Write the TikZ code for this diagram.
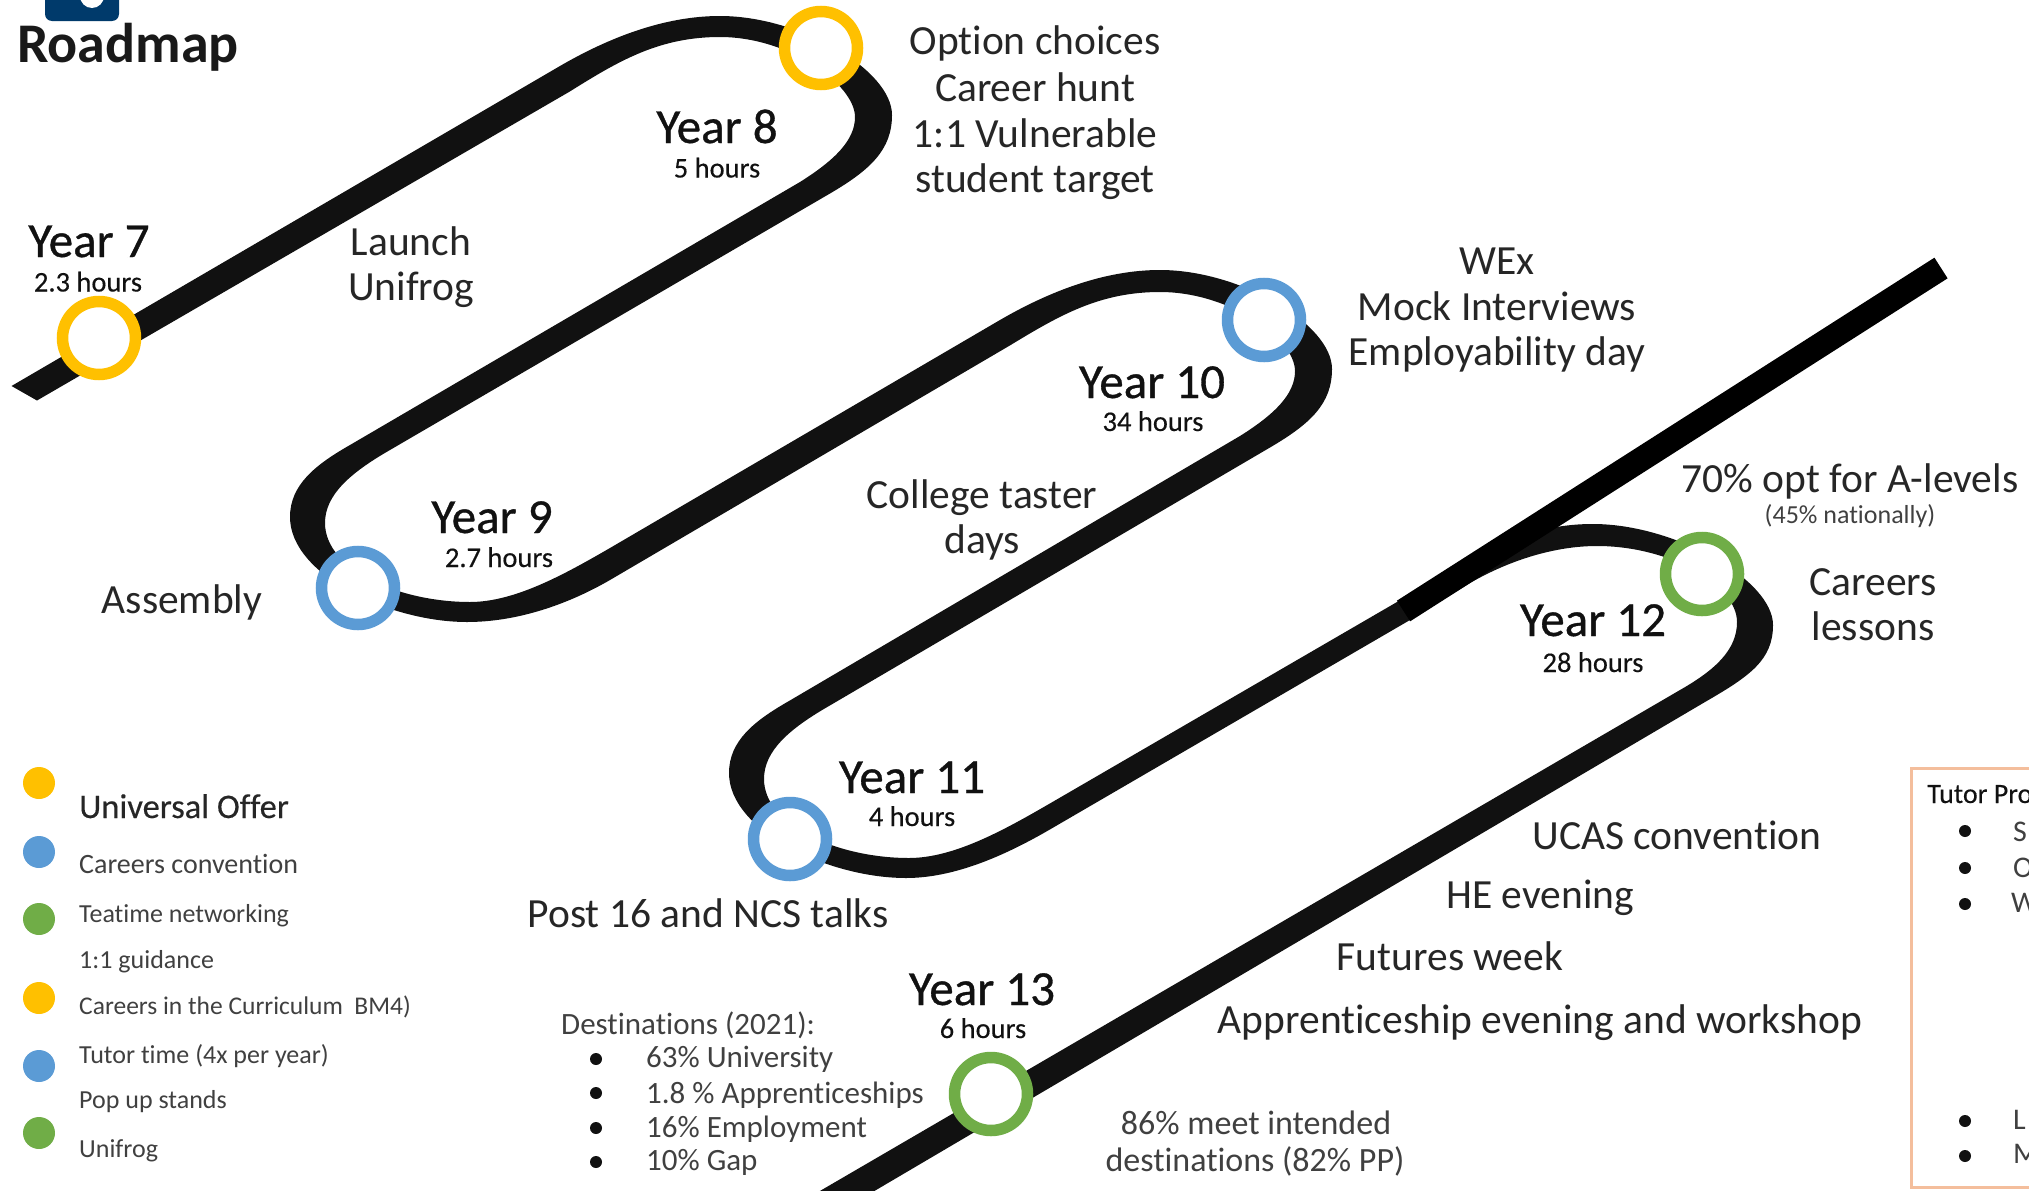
\documentclass[tikz,border=0pt]{standalone}
\usepackage{fontspec}
\setmainfont[Ligatures=NoCommon]{Carlito}
\newfontfamily\heavyfont[FakeBold=0.7,Ligatures=NoCommon]{Carlito}
\newfontfamily\midfont[FakeBold=0.3,Ligatures=NoCommon]{Carlito}
\definecolor{trackc}{HTML}{111111}
\definecolor{ymark}{HTML}{FFC000}
\definecolor{bmark}{HTML}{5B9BD5}
\definecolor{gmark}{HTML}{70AD47}
\definecolor{boxc}{HTML}{F4BE9C}
\definecolor{logoc}{HTML}{003A6B}
\definecolor{inkc}{HTML}{262626}
\definecolor{softc}{HTML}{404040}
\newcommand{\fs}[1]{\fontsize{#1}{#1}\selectfont}
\tikzset{
 x=1pt,y=-1pt,
 ring/.style={circle,draw=#1,line width=11.5pt,fill=white,minimum size=73pt,inner sep=0pt},
 legdot/.style={circle,fill=#1,minimum size=32pt,inner sep=0pt},
 yearlab/.style={font=\fs{49}\heavyfont,text=trackc,inner sep=0pt,anchor=base},
 hourlab/.style={font=\fs{28.5}\midfont,text=trackc,inner sep=0pt,anchor=base},
 lab/.style={font=\fs{41.5},text=inkc,inner sep=0pt,anchor=base},
 smlab/.style={font=\fs{34},text=softc,inner sep=0pt,anchor=base},
 leglab/.style={font=\fs{26},text=softc,inner sep=0pt,anchor=base west},
 desttxt/.style={font=\fs{31},text=softc,inner sep=0pt,anchor=base west},
 bulletdot/.style={circle,fill=trackc,minimum size=12pt,inner sep=0pt},
 boxlet/.style={font=\fs{30},text=softc,inner sep=0pt,anchor=base west},
}
\begin{document}
\begin{tikzpicture}
\useasboundingbox (0,0) rectangle (2029,1191);
\clip (0,0) rectangle (2029,1191);
% logo
\fill[logoc,rounded corners=7pt] (45,-20) rectangle (119,21);
\fill[white] (92,-4) circle (12);
% track outline
\fill[trackc]
 (11.5,386) -- (560,66)
 .. controls (610,37) and (665,16) .. (720,16)
 .. controls (800,16) and (892,70) .. (892,115)
 .. controls (892,150) and (870,170) .. (830,193.5)
 -- (390,450)
 .. controls (350,473) and (325,495) .. (325,523)
 .. controls (325,570) and (400,602) .. (470,602)
 .. controls (515,602) and (565,574) .. (610,548)
 -- (1000,320)
 .. controls (1050,291) and (1105,270) .. (1160,270)
 .. controls (1240,270) and (1332,324) .. (1332,369)
 .. controls (1332,404) and (1310,424) .. (1270,447.5)
 -- (829,706)
 .. controls (789,729) and (764,751) .. (764,779)
 .. controls (764,826) and (839,858) .. (909,858)
 .. controls (954,858) and (1004,830) .. (1049,804)
 -- (1397,602) -- (1480,555)
 .. controls (1520,533) and (1555,524) .. (1593,524)
 .. controls (1675,524) and (1773,580) .. (1773,625)
 .. controls (1773,660) and (1750,676) .. (1705,702)
 -- (871,1193) -- (813,1195) -- (1680,690)
 .. controls (1715,670) and (1737,650) .. (1737,622)
 .. controls (1737,585) and (1670,546) .. (1597,546)
 .. controls (1555,546) and (1510,560) .. (1470,583)
 -- (1410,620) -- (1049,830)
 .. controls (1004,856) and (954,878) .. (906,878)
 .. controls (829,878) and (729,831) .. (729,773)
 .. controls (729,741) and (754,721) .. (789,701)
 -- (1240,436)
 .. controls (1275,414) and (1295,394) .. (1295,371)
 .. controls (1295,339) and (1230,292) .. (1160,292)
 .. controls (1100,292) and (1060,315) .. (1010,345.4)
 -- (610,580)
 .. controls (565,606) and (515,622) .. (467,622)
 .. controls (390,622) and (290,575) .. (290,517)
 .. controls (290,485) and (315,465) .. (350,445)
 -- (800,182)
 .. controls (835,160) and (855,140) .. (855,117)
 .. controls (855,85) and (790,37) .. (720,37)
 .. controls (660,37) and (620,60) .. (570,91.4)
 -- (37,400.5) -- cycle;
% pure black overlay
\coordinate (ovA) at (1403.5,611);
\coordinate (ovB) at (1941,268);
\draw[black,line width=24.5pt] (ovA) -- (ovB);
% rings
\node[ring=ymark] (y7) at (99,338) {};
\node[ring=ymark] (y8) at (821,48) {};
\node[ring=bmark] (y9) at (358,588) {};
\node[ring=bmark] (y10) at (1264,320) {};
\node[ring=bmark] (y11) at (790,839) {};
\node[ring=gmark] (y12) at (1702,574) {};
\node[ring=gmark] (y13) at (991,1094) {};
% title
\node[font=\fs{56}\bfseries,text=black!90,inner sep=0pt,anchor=base west] (title) at (17,62) {Roadmap};
% year labels
\node[yearlab] (t7) at (89,257) {Year 7};
\node[hourlab] (h7) at (88,291.5) {2.3 hours};
\node[yearlab] (t8) at (717,143) {Year 8};
\node[hourlab] (h8) at (717,177.5) {5 hours};
\node[yearlab] (t9) at (492,533) {Year 9};
\node[hourlab] (h9) at (499,567) {2.7 hours};
\node[yearlab] (t10) at (1152,398) {Year 10};
\node[hourlab] (h10) at (1153,431) {34 hours};
\node[yearlab] (t11) at (912,793) {Year 11};
\node[hourlab] (h11) at (912,826) {4 hours};
\node[yearlab] (t12) at (1593,636) {Year 12};
\node[hourlab] (h12) at (1593,672) {28 hours};
\node[yearlab] (t13) at (982,1005) {Year 13};
\node[hourlab] (h13) at (983,1038) {6 hours};
% labels
\node[lab] (l1) at (411,255) {Launch};
\node[lab] (l2) at (411,300.5) {Unifrog};
\node[lab] (o1) at (1035,54) {Option choices};
\node[lab] (o2) at (1035,101) {Career hunt};
\node[lab] (o3) at (1035,147) {1:1 Vulnerable};
\node[lab] (o4) at (1035,192) {student target};
\node[lab] (a1) at (182,613) {Assembly};
\node[lab] (c1) at (982,508) {College taster};
\node[lab] (c2) at (982,553.5) {days};
\node[lab] (w1) at (1497,274.5) {WEx};
\node[lab] (w2) at (1497,320) {Mock Interviews};
\node[lab] (w3) at (1497,365) {Employability day};
\node[lab] (p1) at (1850,492) {70\% opt for A-levels};
\node[font=\fs{26},text=softc,inner sep=0pt,anchor=base] (p2) at (1850,523) {(45\% nationally)};
\node[lab] (r1) at (1873,595) {Careers};
\node[lab] (r2) at (1873,640.5) {lessons};
\node[lab] (n1) at (708,927) {Post 16 and NCS talks};
\node[lab] (u1) at (1677,849) {UCAS convention};
\node[lab] (u2) at (1540,908.5) {HE evening};
\node[lab] (u3) at (1450,970) {Futures week};
\node[lab] (u4) at (1540,1033) {Apprenticeship evening and workshop};
\node[smlab] (m1) at (1256,1134.5) {86\% meet intended};
\node[smlab] (m2) at (1255,1171) {destinations (82\% PP)};
% destinations
\node[desttxt] (d0) at (561,1034) {Destinations (2021):};
\node[bulletdot] (b1) at (596,1059) {};
\node[bulletdot] (b2) at (596,1093) {};
\node[bulletdot] (b3) at (596,1128) {};
\node[bulletdot] (b4) at (596,1162) {};
\node[desttxt] (d1) at (646,1067) {63\% University};
\node[desttxt] (d2) at (646,1103) {1.8 \% Apprenticeships};
\node[desttxt] (d3) at (646,1137) {16\% Employment};
\node[desttxt] (d4) at (646,1170) {10\% Gap};
% legend
\node[legdot=ymark] (k1) at (39,783) {};
\node[legdot=bmark] (k2) at (39,852) {};
\node[legdot=gmark] (k3) at (39,919) {};
\node[legdot=ymark] (k4) at (39,998) {};
\node[legdot=bmark] (k5) at (39,1066) {};
\node[legdot=gmark] (k6) at (39,1133) {};
\node[leglab,font=\fs{34.5}\midfont,text=inkc] (e1) at (79,818) {Universal Offer};
\node[leglab,font=\fs{28}] (e2) at (79,873) {Careers convention};
\node[leglab] (e3) at (79,922) {Teatime networking};
\node[leglab] (e4) at (79,968) {1:1 guidance};
\node[leglab,font=\fs{25.5}] (e5) at (79,1014) {Careers in the Curriculum\ \ BM4)};
\node[leglab] (e6) at (79,1063) {Tutor time (4x per year)};
\node[leglab] (e7) at (79,1108) {Pop up stands};
\node[leglab] (e8) at (79,1157) {Unifrog};
% tutor box
\draw[boxc,line width=3pt] (2040,768) -- (1911,768) -- (1911,1187) -- (2040,1187);
\node[leglab,font=\fs{28}\midfont,text=trackc] (x0) at (1927,803) {Tutor Pro};
\node[bulletdot] (x1) at (1965,831) {};
\node[bulletdot] (x2) at (1965,868) {};
\node[bulletdot] (x3) at (1965,904) {};
\node[bulletdot] (x4) at (1965,1121) {};
\node[bulletdot] (x5) at (1965,1156) {};
\node[boxlet] (s1) at (2013,841) {S};
\node[boxlet] (s2) at (2013,877) {O};
\node[boxlet] (s3) at (2011,912) {W};
\node[boxlet] (s4) at (2013,1129) {L};
\node[boxlet] (s5) at (2013,1163) {M};
\end{tikzpicture}
\end{document}
